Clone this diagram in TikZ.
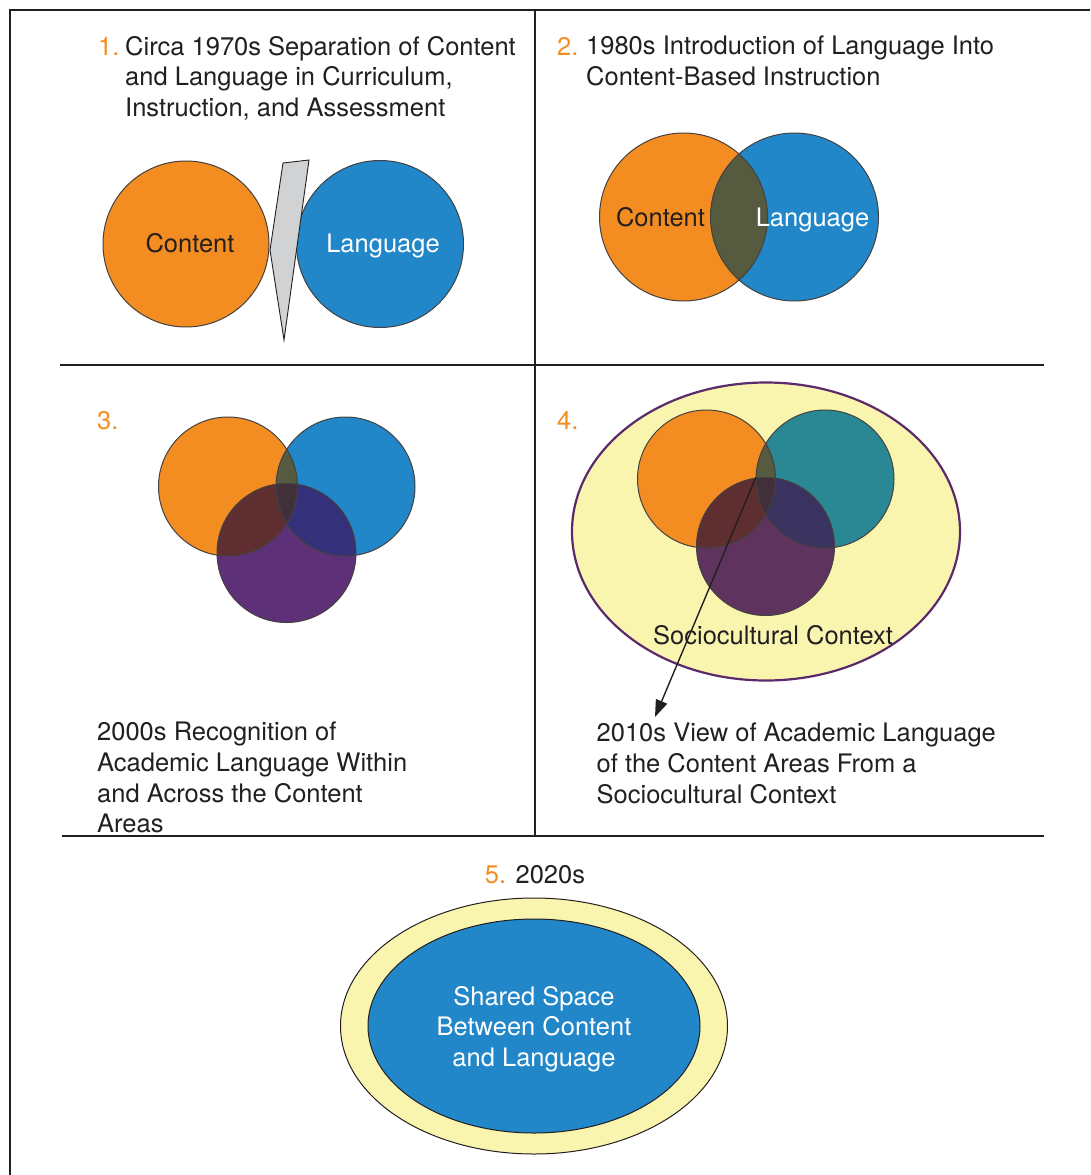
\documentclass[tikz,border=0pt]{standalone}
\usepackage{fontspec}
\setmainfont{TeX Gyre Heros}
\usetikzlibrary{arrows.meta}
\definecolor{ink}{HTML}{231F20}
\definecolor{orangeC}{HTML}{F48D21}
\definecolor{blueC}{HTML}{2187C9}
\definecolor{purpleA}{HTML}{5E3077}
\definecolor{purpleB}{HTML}{5E335E}
\definecolor{tealC}{HTML}{2A8894}
\definecolor{yellowC}{HTML}{F9F5AF}
\definecolor{wedgeC}{HTML}{D1D2D4}
\definecolor{oliveC}{HTML}{565A3E}
\definecolor{brownC}{HTML}{5F2E30}
\definecolor{navyC}{HTML}{35307A}
\definecolor{navyB}{HTML}{3A325F}
\definecolor{tripleC}{HTML}{41303A}
\definecolor{ellB}{HTML}{5B2A6B}
\begin{document}
\begin{tikzpicture}[x=1pt,y=-1pt,
  txt/.style={font=\fontsize{25.5}{30.6}\selectfont, text=ink, inner sep=0pt, align=left, anchor=north west},
  num/.style={font=\fontsize{25.5}{30.6}\selectfont, text=orangeC, inner sep=0pt, anchor=base west},
  lbl/.style={font=\fontsize{25.5}{30.6}\selectfont, inner sep=0pt, anchor=base},
  frame/.style={draw=ink, line width=1.8pt},
  blob/.style={circle, inner sep=0pt, draw=ink!85, line width=1pt}
]
\useasboundingbox (0,0) rectangle (1090,1175);
\fill[white] (0,0) rectangle (1090,1175);

% ---------- frame ----------
\coordinate (fTL) at (10,10);
\coordinate (fTR) at (1090,10);
\coordinate (fBL) at (10,1175);
\coordinate (dTop) at (535,10);
\coordinate (dBot) at (535,836);
\coordinate (h1L) at (60,365);
\coordinate (h1R) at (1044,365);
\coordinate (h2L) at (62,836);
\coordinate (h2R) at (1044,836);
\draw[draw=ink, line width=1.2pt] (fBL) -- (fTL) -- (fTR);
\draw[frame] (dTop) -- (dBot);
\draw[frame] (h1L) -- (h1R);
\draw[frame] (h2L) -- (h2R);

% ---------- panel 1 ----------
\node[num] (n1) at (98,55) {1.};
\node[txt] (t1) at (125,36) {Circa 1970s Separation of Content\\and Language in Curriculum,\\Instruction, and Assessment};
\node[blob, fill=orangeC, minimum size=166pt] (c1) at (186,244) {};
\node[blob, fill=blueC, minimum size=167pt] (l1) at (380,244) {};
\filldraw[fill=wedgeC, draw=ink, line width=0.9pt] (283,163) -- (309,160) -- (284,340) -- (270,250) -- cycle;
\node[lbl, text=ink] (c1t) at (190,252) {Content};
\node[lbl, text=white] (l1t) at (383,252) {Language};

% ---------- panel 2 ----------
\node[num] (n2) at (557,55) {2.};
\node[txt] (t2) at (586,36) {1980s Introduction of Language Into\\Content-Based Instruction};
\fill[orangeC] (683.5,217) circle (84pt);
\fill[blueC] (794.5,217) circle (84pt);
\begin{scope}
  \clip (683.5,217) circle (84pt);
  \fill[oliveC] (794.5,217) circle (84pt);
\end{scope}
\node[blob, minimum size=168pt] (c2) at (683.5,217) {};
\node[blob, minimum size=168pt] (l2) at (794.5,217) {};
\node[lbl, text=ink] (c2t) at (660.5,226) {Content};
\node[lbl, text=white] (l2t) at (812.5,226) {Language};

% ---------- panel 3 ----------
\node[num] (n3) at (97,429) {3.};
\fill[orangeC] (228,486.5) circle (69.5pt);
\fill[blueC] (345.5,486.5) circle (69.5pt);
\fill[purpleA] (286.5,553) circle (69.5pt);
\begin{scope}
  \clip (228,486.5) circle (69.5pt);
  \fill[oliveC] (345.5,486.5) circle (69.5pt);
  \fill[brownC] (286.5,553) circle (69.5pt);
\end{scope}
\begin{scope}
  \clip (345.5,486.5) circle (69.5pt);
  \fill[navyC] (286.5,553) circle (69.5pt);
  \clip (228,486.5) circle (69.5pt);
  \fill[tripleC] (286.5,553) circle (69.5pt);
\end{scope}
\node[blob, minimum size=139pt] (o3) at (228,486.5) {};
\node[blob, minimum size=139pt] (b3) at (345.5,486.5) {};
\node[blob, minimum size=139pt] (p3) at (286.5,553) {};
\node[txt] (t3) at (97,722) {2000s Recognition of\\Academic Language Within\\and Across the Content\\Areas};

% ---------- panel 4 ----------
\node[num] (n4) at (557,429) {4.};
\filldraw[fill=yellowC, draw=ellB, line width=2.2pt] (766,531.5) ellipse [x radius=194pt, y radius=149pt];
\fill[orangeC] (706.5,479) circle (69pt);
\fill[tealC] (825,479) circle (69pt);
\fill[purpleB] (765.5,546.5) circle (69pt);
\begin{scope}
  \clip (706.5,479) circle (69pt);
  \fill[oliveC] (825,479) circle (69pt);
  \fill[brownC] (765.5,546.5) circle (69pt);
\end{scope}
\begin{scope}
  \clip (825,479) circle (69pt);
  \fill[navyB] (765.5,546.5) circle (69pt);
  \clip (706.5,479) circle (69pt);
  \fill[tripleC] (765.5,546.5) circle (69pt);
\end{scope}
\node[blob, minimum size=138pt] (o4) at (706.5,479) {};
\node[blob, minimum size=138pt] (b4) at (825,479) {};
\node[blob, minimum size=138pt] (p4) at (765.5,546.5) {};
\node[lbl, text=ink, anchor=base west] (s4) at (653,644) {Sociocultural Context};
\coordinate (arrS) at (756,477);
\coordinate (arrE) at (655,717);
\draw[ink, line width=1.4pt, -{Triangle[length=17pt,width=12pt]}] (arrS) -- (arrE);
\node[txt] (t4) at (596.5,723) {2010s View of Academic Language\\of the Content Areas From a\\Sociocultural Context};

% ---------- panel 5 ----------
\node[lbl, text=ink] (t5) at (535,883) {\textcolor{orangeC}{5.} 2020s};
\filldraw[fill=yellowC, draw=ink, line width=1pt] (534,1026) ellipse [x radius=193.5pt, y radius=128pt];
\filldraw[fill=blueC, draw=ink, line width=1pt] (534,1026) ellipse [x radius=166pt, y radius=107pt];
\node[font=\fontsize{25.5}{30.6}\selectfont, text=white, inner sep=0pt, align=center] (sh) at (534,1029) {Shared Space\\Between Content\\and Language};
\end{tikzpicture}
\end{document}
